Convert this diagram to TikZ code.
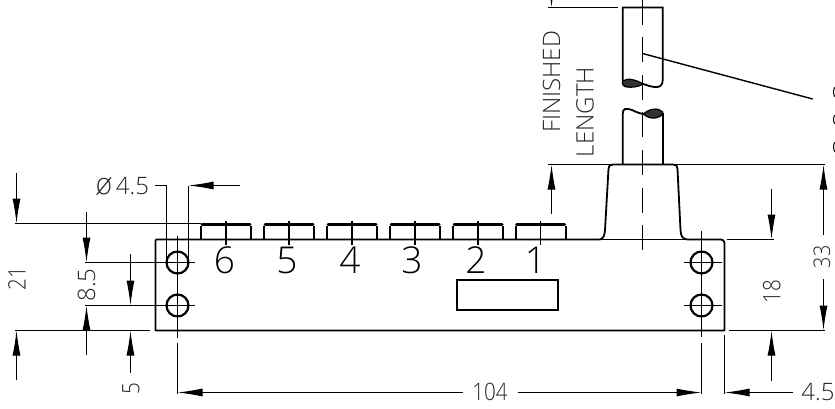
\documentclass[tikz,border=0pt]{standalone}
\usepackage{fontspec}
\setmainfont{Open Sans Light}
\newfontfamily\digf[FakeStretch=0.86]{Open Sans Light}
\newfontfamily\phif{DejaVu Sans ExtraLight}
\usetikzlibrary{arrows.meta}
\tikzset{
  x=1pt,y=-1pt,
  main/.style={line width=1.8pt,black},
  thin/.style={line width=1pt,black},
  heavy/.style={line width=3pt,black,line cap=round},
  dim/.style={line width=1pt,black,-{Latex[length=25pt,width=8pt,sep=0pt]}},
  lbl/.style={inner sep=0pt,text=black!85,font=\fontsize{24}{24}\selectfont},
  rlbl/.style={lbl,rotate=90},
  numlbl/.style={inner sep=0pt,text=black,font=\fontsize{37}{37}\selectfont},
}
\begin{document}
\begin{tikzpicture}
\clip (0,0) rectangle (835,409);
\fill[white] (0,0) rectangle (835,409);
% named reference coordinates
\coordinate (tl) at (155.5,239.5);
\coordinate (br) at (724.5,330.5);
\coordinate (hLa) at (177.5,262.5);
\coordinate (hLb) at (177.5,305.5);
\coordinate (hRa) at (701.5,262.5);
\coordinate (hRb) at (701.5,305.5);
% body
\draw[main,line join=round] (tl) -- (600,239.5) (687,239.5) -- (721,239.5) to[out=0,in=90] (724.5,243) -- (br) -- (155.5,330.5) -- (tl);
\draw[main] (600,239.5) -- (687,239.5);
% buttons
\foreach \c/\n in {226/6,289/5,352/4,415/3,478/2,540.7/1}{
  \draw[main] (\c-25,239.5) -- (\c-25,225.5);
  \draw[main] (\c+25,239.5) -- (\c+25,225.5);
  \draw[heavy] (\c-24,224) -- (\c+24,224);
  \draw[thin,line width=1.4pt] (\c,220.7) -- (\c,245);
}
\foreach \c/\n in {224.5/6,287/5,350/4,412/3,476/2,535.5/1}{
  \node[numlbl,anchor=center] (n\n) at (\c,260.5) {\n};
}
% window
\draw[main] (456.7,280) rectangle (558,310);
% holes
\foreach \p in {hLa,hLb,hRa,hRb}{
  \draw[line width=2.2pt] (\p) circle[radius=11];
}
\draw[thin,line width=1.4pt] (177.5,236) -- (177.5,338);
\draw[thin,line width=1.4pt] (701.5,231) -- (701.5,337);
\draw[thin] (85,262.5) -- (195,262.5);
\draw[thin] (85,305.5) -- (195,305.5);
\draw[thin,line width=1.4pt] (684,262.5) -- (722,262.5);
\draw[thin,line width=1.4pt] (684,305.5) -- (722,305.5);
% knob
\draw[main] (600,239.5) .. controls (604,238) and (604.5,235) .. (605,230) -- (608.5,169) .. controls (609,165.5) and (610,164.5) .. (613,164.5) -- (673,164.5) .. controls (676,164.5) and (677,165.5) .. (677.5,169) -- (680.5,230) .. controls (681,236) and (682,238.5) .. (687,239.5);
% rod
\draw[main] (622.7,81) -- (622.7,7.5) -- (662.7,7.5) -- (662.7,80) .. controls (662.7,90) and (653,87.5) .. (643.3,84);
\draw[line width=1.3pt,fill=black!80] (643.3,84) .. controls (636,80) and (628,77.5) .. (622.7,81) .. controls (622,84) and (623,86.5) .. (627,87) .. controls (632,87.5) and (638,87) .. (643.3,84) -- cycle;
\draw[main] (622.7,164) -- (622.7,114) .. controls (622.7,108) and (626,108) .. (632,110) .. controls (636,112) and (640,113.5) .. (643.3,114);
\draw[main] (662.7,113) -- (662.7,164);
\draw[line width=1.3pt,fill=black!80] (643.3,114) .. controls (649,109) and (658,107) .. (662.7,112) .. controls (663,116) and (657,118.5) .. (652,118) .. controls (648,117.5) and (645,115.5) .. (643.3,114) -- cycle;
\draw[line width=1.4pt,dash pattern=on 25pt off 12.5pt] (642.5,0) -- (642.5,250);
% leader
\coordinate (leadA) at (642.5,53.5);
\coordinate (leadB) at (812.7,99);
\draw[thin,line width=1.4pt] (leadA) -- (leadB);
% clipped edge marks
\draw[thin] (835,87) .. controls (833,89) and (833,95) .. (835,97);
\draw[thin] (835,115) .. controls (833,117) and (833,122) .. (835,124);
\draw[thin] (835,142) .. controls (833,144) and (833,150) .. (835,152);
% extension lines
\draw[thin] (15,223.5) -- (201,223.5);
\draw[thin] (15,330.5) -- (150,330.5);
\draw[thin] (548,7.5) -- (618,7.5);
\draw[thin] (548,164.5) -- (825,164.5);
\draw[thin] (727,239.5) -- (774,239.5);
\draw[thin] (729,330.5) -- (825,330.5);
\draw[thin] (177.5,343) -- (177.5,394);
\draw[thin] (701.5,343) -- (701.5,394);
\draw[thin] (724.5,335) -- (724.5,394);
% dimension arrows
\draw[dim] (16.5,173) -- (16.5,223.5);
\draw[dim] (16.5,380) -- (16.5,330.5);
\draw[dim] (86.5,212) -- (86.5,262.5);
\draw[dim] (86.5,355) -- (86.5,305.5);
\draw[dim] (130.5,254) -- (130.5,305.5);
\draw[dim] (130.5,373) -- (130.5,330.5);
\draw[dim] (771.5,189) -- (771.5,239.5);
\draw[dim] (771.5,381) -- (771.5,330.5);
\draw[dim] (551.5,-30) -- (551.5,7.5);
\draw[dim] (551.5,214) -- (551.5,164.5);
\draw[dim] (823.5,235) -- (823.5,164.5);
\draw[dim] (823.5,279) -- (823.5,330.5);
\draw[dim] (240,185.5) -- (188.5,185.5);
\draw[thin] (188.5,185.5) -- (188.5,262.5);
\draw[thin] (155,185.5) -- (166.5,185.5) -- (166.5,262.5);
\draw[dim] (463,392.5) -- (177.5,392.5);
\draw[dim] (518,392.5) -- (701.5,392.5);
\draw[dim] (793,392.5) -- (724.5,392.5);
% labels
\node[lbl,anchor=west] (phi) at (95,186) {{\phif\fontsize{29}{29}\selectfont ø}\kern3pt 4.5};
\node[rlbl] (d21) at (17,279) {\digf 21};
\node[rlbl] (d85) at (86.5,285) {8.5};
\node[rlbl] (d5) at (131,389) {\digf 5};
\node[rlbl] (d18) at (771.7,292) {\digf 18};
\node[rlbl,font=\fontsize{23}{23}\selectfont] (d33) at (822,257) {\digf 33};
\node[lbl] (d104) at (490,392) {\digf 104};
\node[lbl] (d45) at (818,392) {4.5};
\node[rlbl] (fin) at (551.5,82) {FINISHED};
\node[rlbl] (len) at (585,112) {LENGTH};
\end{tikzpicture}
\end{document}
